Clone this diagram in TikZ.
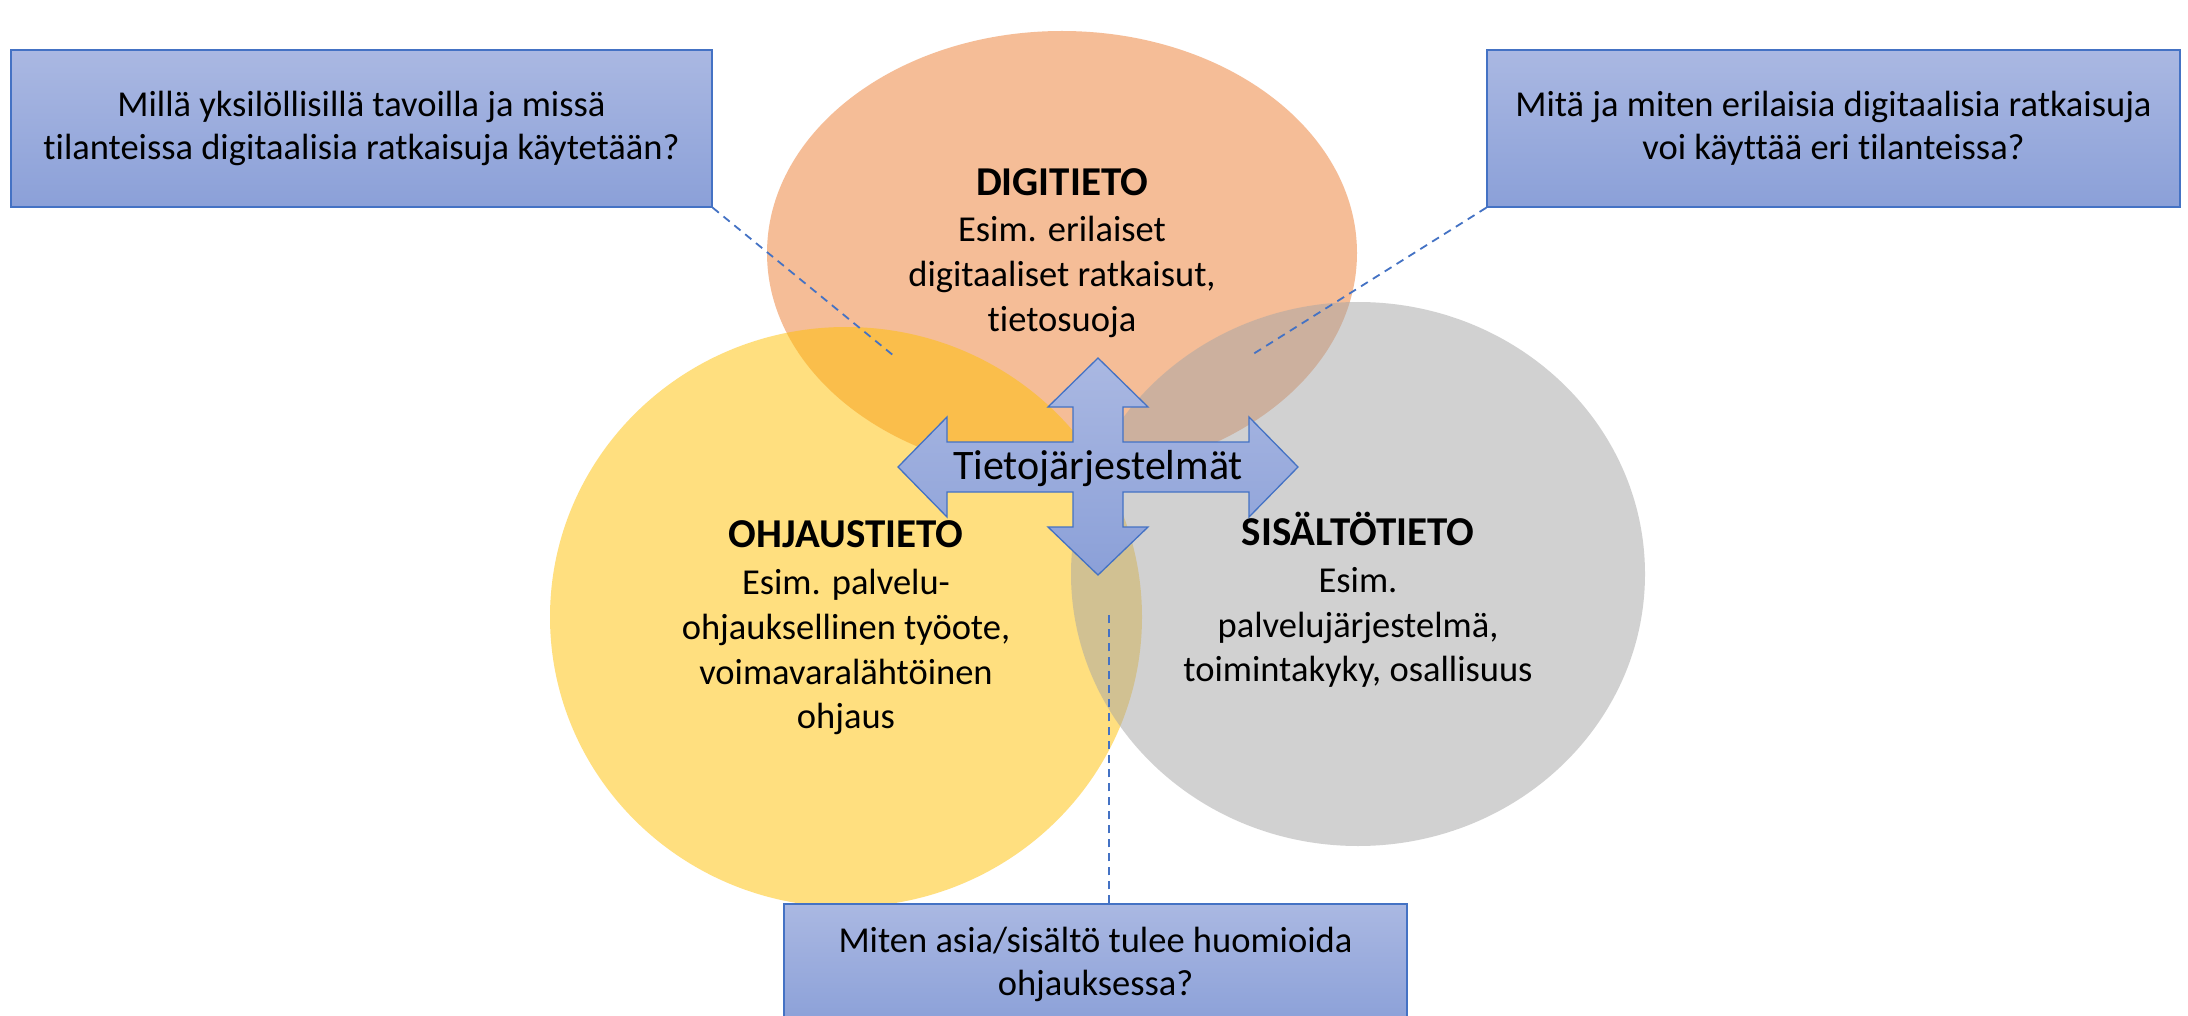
\documentclass[tikz,border=0pt]{standalone}
\usepackage{fontspec}
\setmainfont{Carlito}[Ligatures=NoCommon]
\usepackage{xcolor}
\definecolor{digifill}{HTML}{ED7D31}
\definecolor{ohjfill}{HTML}{FFC000}
\definecolor{sisfill}{HTML}{A5A5A5}
\definecolor{qline}{HTML}{4472C4}
\definecolor{qtop}{RGB}{170,184,226}
\definecolor{qbottom}{RGB}{139,160,216}

\begin{document}
\begin{tikzpicture}[
  x=1pt, y=-1pt,
  field/.style={fill opacity=0.5},
  fieldtext/.style={
    align=center,
    inner sep=0pt,
    font=\fontsize{36.5}{44.7}\selectfont
  },
  question/.style={
    draw=qline,
    line width=1.3pt,
    top color=qtop,
    bottom color=qbottom,
    align=center,
    inner sep=0pt,
    font=\fontsize{36.5}{43.5}\selectfont
  },
  link/.style={
    draw=qline,
    line width=1.8pt,
    dash pattern=on 8pt off 6pt
  },
  hubarrow/.style={
    draw=qline,
    line width=1.3pt,
    top color=qtop,
    bottom color=qbottom
  }
]
  \clip (0,0) rectangle (2188,1016);
  \fill[white] (0,0) rectangle (2188,1016);

  % the three fields of knowledge
  \fill[field, digifill] (1062,253) ellipse [x radius=295, y radius=222];
  \fill[field, ohjfill] (846,617) ellipse [x radius=296, y radius=290];
  \fill[field, sisfill] (1358,574) ellipse [x radius=287, y radius=272];

  \node[fieldtext] (digi) at (1062,253)
    {{\fontsize{41}{44.7}\selectfont\bfseries DIGITIETO}\\[2pt]
     Esim. erilaiset\\ digitaaliset ratkaisut,\\ tietosuoja};
  \node[fieldtext] (ohj) at (846,628)
    {{\fontsize{41}{44.7}\selectfont\bfseries OHJAUSTIETO}\\[2pt]
     Esim. palvelu-\\ ohjauksellinen työote,\\ voimavaralähtöinen\\ ohjaus};
  \node[fieldtext] (sis) at (1358,600)
    {{\fontsize{41}{44.7}\selectfont\bfseries SISÄLTÖTIETO}\\[2pt]
     Esim.\\ palvelujärjestelmä,\\ toimintakyky, osallisuus};

  % questions
  \node[question, minimum width=701, minimum height=157] (qleft) at (361.5,128.5)
    {Millä yksilöllisillä tavoilla ja missä\\ tilanteissa digitaalisia ratkaisuja käytetään?};
  \node[question, minimum width=693, minimum height=157] (qright) at (1833.5,128.5)
    {Mitä ja miten erilaisia digitaalisia ratkaisuja\\ voi käyttää eri tilanteissa?};
  \node[question, minimum width=623, minimum height=121] (qbot) at (1095.5,964.5)
    {Miten asia/sisältö tulee huomioida\\ ohjauksessa?};

  \coordinate (lend) at (894,356);
  \coordinate (rend) at (1250,356);
  \coordinate (bend) at (1109,614);
  \draw[link] (qleft.south east) -- (lend);
  \draw[link] (qright.south west) -- (rend);
  \draw[link] (bend |- qbot.north) -- (bend);

  % four-way arrow in the middle
  \coordinate (hub) at (1098,467);
  \begin{scope}[shift={(hub)}]
    \draw[hubarrow] (-200,0) -- (-151,-50) -- (-151,-25) -- (-25,-25)
      -- (-25,-60) -- (-50,-60) -- (0,-109) -- (50,-60) -- (25,-60)
      -- (25,-25) -- (151,-25) -- (151,-50) -- (200,0) -- (151,50)
      -- (151,25) -- (25,25) -- (25,60) -- (50,60) -- (0,108)
      -- (-50,60) -- (-25,60) -- (-25,25) -- (-151,25) -- (-151,50)
      -- cycle;
  \end{scope}
  \node[font=\fontsize{42}{50}\selectfont, inner sep=0pt] (hubtext) at ([yshift=-2]hub)
    {Tietojärjestelmät};
\end{tikzpicture}
\end{document}
